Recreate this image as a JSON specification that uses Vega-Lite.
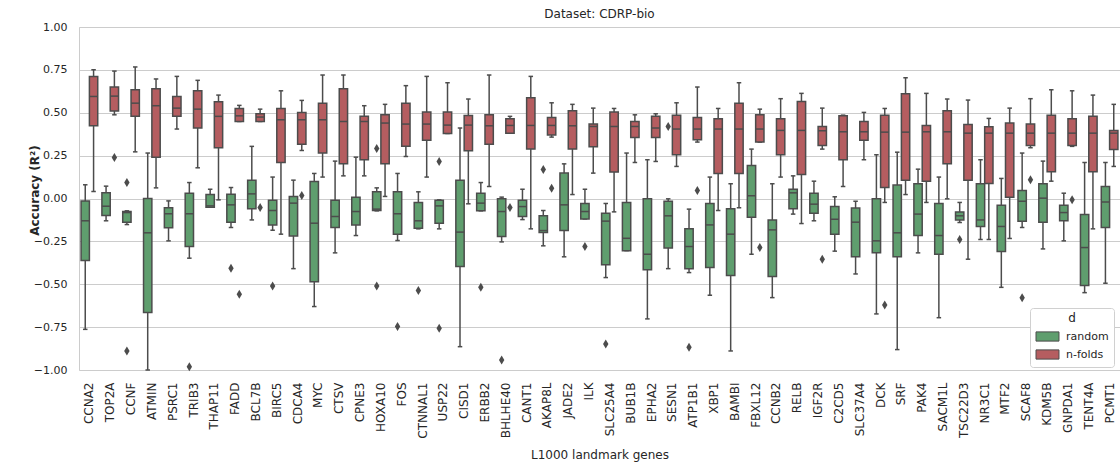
{
  "$schema": "https://vega.github.io/schema/vega-lite/v6.json",
  "width": 1041,
  "height": 343,
  "autosize": {"type": "none"},
  "padding": {"left": 79, "top": 27, "right": 0, "bottom": 98},
  "background": "white",
  "title": {"text": "Dataset: CDRP-bio", "fontSize": 12, "fontWeight": "normal", "color": "#262626", "offset": 0, "anchor": "middle", "font": "DejaVu Sans"},
  "config": {
    "font": "DejaVu Sans",
    "view": {"stroke": "#cccccc", "strokeWidth": 1},
    "axis": {"labelFont": "DejaVu Sans", "titleFont": "DejaVu Sans", "labelColor": "#262626", "titleColor": "#262626"},
    "legend": {"labelFont": "DejaVu Sans", "titleFont": "DejaVu Sans"}
  },
  "datasets": {
    "boxes": [
      {"gene": "CCNA2", "d": "random", "lo": -0.763, "q1": -0.362, "med": -0.130, "q3": -0.014, "hi": 0.080},
      {"gene": "CCNA2", "d": "n-folds", "lo": 0.041, "q1": 0.424, "med": 0.595, "q3": 0.712, "hi": 0.751},
      {"gene": "TOP2A", "d": "random", "lo": -0.130, "q1": -0.099, "med": -0.045, "q3": 0.033, "hi": 0.072},
      {"gene": "TOP2A", "d": "n-folds", "lo": 0.488, "q1": 0.510, "med": 0.597, "q3": 0.650, "hi": 0.743},
      {"gene": "CCNF", "d": "random", "lo": -0.152, "q1": -0.138, "med": -0.082, "q3": -0.076, "hi": -0.072},
      {"gene": "CCNF", "d": "n-folds", "lo": 0.272, "q1": 0.479, "med": 0.556, "q3": 0.634, "hi": 0.767},
      {"gene": "ATMIN", "d": "random", "lo": -1.0, "q1": -0.665, "med": -0.200, "q3": 0.000, "hi": 0.265},
      {"gene": "ATMIN", "d": "n-folds", "lo": 0.062, "q1": 0.241, "med": 0.541, "q3": 0.640, "hi": 0.697},
      {"gene": "PSRC1", "d": "random", "lo": -0.247, "q1": -0.171, "med": -0.089, "q3": -0.054, "hi": -0.014},
      {"gene": "PSRC1", "d": "n-folds", "lo": 0.405, "q1": 0.479, "med": 0.527, "q3": 0.595, "hi": 0.712},
      {"gene": "TRIB3", "d": "random", "lo": -0.348, "q1": -0.280, "med": -0.089, "q3": 0.031, "hi": 0.093},
      {"gene": "TRIB3", "d": "n-folds", "lo": 0.179, "q1": 0.411, "med": 0.521, "q3": 0.628, "hi": 0.689},
      {"gene": "THAP11", "d": "random", "lo": -0.051, "q1": -0.051, "med": -0.043, "q3": 0.023, "hi": 0.054},
      {"gene": "THAP11", "d": "n-folds", "lo": -0.008, "q1": 0.296, "med": 0.479, "q3": 0.564, "hi": 0.603},
      {"gene": "FADD", "d": "random", "lo": -0.169, "q1": -0.138, "med": -0.037, "q3": 0.025, "hi": 0.064},
      {"gene": "FADD", "d": "n-folds", "lo": 0.449, "q1": 0.449, "med": 0.482, "q3": 0.525, "hi": 0.543},
      {"gene": "BCL7B", "d": "random", "lo": -0.125, "q1": -0.060, "med": 0.027, "q3": 0.107, "hi": 0.304},
      {"gene": "BCL7B", "d": "n-folds", "lo": 0.449, "q1": 0.449, "med": 0.475, "q3": 0.494, "hi": 0.521},
      {"gene": "BIRC5", "d": "random", "lo": -0.185, "q1": -0.154, "med": -0.070, "q3": -0.010, "hi": 0.125},
      {"gene": "BIRC5", "d": "n-folds", "lo": -0.208, "q1": 0.210, "med": 0.459, "q3": 0.525, "hi": 0.628},
      {"gene": "CDCA4", "d": "random", "lo": -0.409, "q1": -0.218, "med": -0.027, "q3": 0.012, "hi": 0.107},
      {"gene": "CDCA4", "d": "n-folds", "lo": 0.280, "q1": 0.317, "med": 0.459, "q3": 0.502, "hi": 0.572},
      {"gene": "MYC", "d": "random", "lo": -0.630, "q1": -0.486, "med": -0.144, "q3": 0.099, "hi": 0.146},
      {"gene": "MYC", "d": "n-folds", "lo": 0.125, "q1": 0.265, "med": 0.459, "q3": 0.556, "hi": 0.720},
      {"gene": "CTSV", "d": "random", "lo": -0.317, "q1": -0.169, "med": -0.105, "q3": -0.010, "hi": 0.218},
      {"gene": "CTSV", "d": "n-folds", "lo": 0.132, "q1": 0.202, "med": 0.449, "q3": 0.640, "hi": 0.720},
      {"gene": "CPNE3", "d": "random", "lo": -0.216, "q1": -0.154, "med": -0.076, "q3": 0.008, "hi": 0.241},
      {"gene": "CPNE3", "d": "n-folds", "lo": 0.132, "q1": 0.226, "med": 0.449, "q3": 0.479, "hi": 0.541},
      {"gene": "HOXA10", "d": "random", "lo": -0.072, "q1": -0.070, "med": -0.062, "q3": 0.039, "hi": 0.062},
      {"gene": "HOXA10", "d": "n-folds", "lo": 0.012, "q1": 0.202, "med": 0.440, "q3": 0.488, "hi": 0.549},
      {"gene": "FOS", "d": "random", "lo": -0.245, "q1": -0.208, "med": -0.089, "q3": 0.039, "hi": 0.146},
      {"gene": "FOS", "d": "n-folds", "lo": 0.245, "q1": 0.304, "med": 0.434, "q3": 0.556, "hi": 0.658},
      {"gene": "CTNNAL1", "d": "random", "lo": -0.177, "q1": -0.173, "med": -0.130, "q3": -0.023, "hi": 0.039},
      {"gene": "CTNNAL1", "d": "n-folds", "lo": 0.125, "q1": 0.340, "med": 0.434, "q3": 0.504, "hi": 0.712},
      {"gene": "USP22", "d": "random", "lo": -0.177, "q1": -0.144, "med": -0.043, "q3": -0.010, "hi": -0.008},
      {"gene": "USP22", "d": "n-folds", "lo": 0.379, "q1": 0.379, "med": 0.428, "q3": 0.504, "hi": 0.675},
      {"gene": "CISD1", "d": "random", "lo": -0.864, "q1": -0.397, "med": -0.196, "q3": 0.107, "hi": 0.411},
      {"gene": "CISD1", "d": "n-folds", "lo": -0.031, "q1": 0.278, "med": 0.428, "q3": 0.484, "hi": 0.580},
      {"gene": "ERBB2", "d": "random", "lo": -0.072, "q1": -0.072, "med": -0.027, "q3": 0.031, "hi": 0.093},
      {"gene": "ERBB2", "d": "n-folds", "lo": 0.070, "q1": 0.317, "med": 0.424, "q3": 0.488, "hi": 0.720},
      {"gene": "BHLHE40", "d": "random", "lo": -0.253, "q1": -0.222, "med": -0.076, "q3": -0.002, "hi": 0.008},
      {"gene": "BHLHE40", "d": "n-folds", "lo": 0.381, "q1": 0.381, "med": 0.426, "q3": 0.465, "hi": 0.479},
      {"gene": "CANT1", "d": "random", "lo": -0.123, "q1": -0.105, "med": -0.047, "q3": -0.010, "hi": 0.054},
      {"gene": "CANT1", "d": "n-folds", "lo": -0.177, "q1": 0.288, "med": 0.426, "q3": 0.588, "hi": 0.712},
      {"gene": "AKAP8L", "d": "random", "lo": -0.276, "q1": -0.198, "med": -0.187, "q3": -0.101, "hi": -0.070},
      {"gene": "AKAP8L", "d": "n-folds", "lo": 0.358, "q1": 0.370, "med": 0.426, "q3": 0.473, "hi": 0.558},
      {"gene": "JADE2", "d": "random", "lo": -0.340, "q1": -0.187, "med": -0.037, "q3": 0.148, "hi": 0.202},
      {"gene": "JADE2", "d": "n-folds", "lo": 0.023, "q1": 0.288, "med": 0.424, "q3": 0.512, "hi": 0.549},
      {"gene": "ILK", "d": "random", "lo": -0.119, "q1": -0.119, "med": -0.076, "q3": -0.029, "hi": 0.054},
      {"gene": "ILK", "d": "n-folds", "lo": 0.148, "q1": 0.302, "med": 0.420, "q3": 0.434, "hi": 0.527},
      {"gene": "SLC25A4", "d": "random", "lo": -0.461, "q1": -0.387, "med": -0.132, "q3": -0.086, "hi": -0.029},
      {"gene": "SLC25A4", "d": "n-folds", "lo": -0.078, "q1": 0.154, "med": 0.420, "q3": 0.504, "hi": 0.525},
      {"gene": "BUB1B", "d": "random", "lo": -0.304, "q1": -0.304, "med": -0.232, "q3": -0.023, "hi": 0.265},
      {"gene": "BUB1B", "d": "n-folds", "lo": 0.210, "q1": 0.356, "med": 0.420, "q3": 0.449, "hi": 0.488},
      {"gene": "EPHA2", "d": "random", "lo": -0.702, "q1": -0.416, "med": -0.325, "q3": -0.002, "hi": 0.226},
      {"gene": "EPHA2", "d": "n-folds", "lo": 0.216, "q1": 0.356, "med": 0.411, "q3": 0.479, "hi": 0.494},
      {"gene": "SESN1", "d": "random", "lo": -0.409, "q1": -0.288, "med": -0.101, "q3": -0.016, "hi": -0.002},
      {"gene": "SESN1", "d": "n-folds", "lo": 0.187, "q1": 0.255, "med": 0.405, "q3": 0.486, "hi": 0.558},
      {"gene": "ATP1B1", "d": "random", "lo": -0.432, "q1": -0.409, "med": -0.280, "q3": -0.177, "hi": -0.062},
      {"gene": "ATP1B1", "d": "n-folds", "lo": 0.329, "q1": 0.342, "med": 0.405, "q3": 0.473, "hi": 0.650},
      {"gene": "XBP1", "d": "random", "lo": -0.564, "q1": -0.403, "med": -0.154, "q3": -0.029, "hi": 0.125},
      {"gene": "XBP1", "d": "n-folds", "lo": -0.070, "q1": 0.146, "med": 0.405, "q3": 0.465, "hi": 0.525},
      {"gene": "BAMBI", "d": "random", "lo": -0.889, "q1": -0.449, "med": -0.208, "q3": -0.060, "hi": 0.086},
      {"gene": "BAMBI", "d": "n-folds", "lo": -0.054, "q1": 0.146, "med": 0.405, "q3": 0.556, "hi": 0.675},
      {"gene": "FBXL12", "d": "random", "lo": -0.325, "q1": -0.109, "med": 0.016, "q3": 0.193, "hi": 0.288},
      {"gene": "FBXL12", "d": "n-folds", "lo": 0.329, "q1": 0.329, "med": 0.405, "q3": 0.488, "hi": 0.521},
      {"gene": "CCNB2", "d": "random", "lo": -0.578, "q1": -0.455, "med": -0.183, "q3": -0.125, "hi": 0.086},
      {"gene": "CCNB2", "d": "n-folds", "lo": 0.125, "q1": 0.255, "med": 0.397, "q3": 0.465, "hi": 0.582},
      {"gene": "RELB", "d": "random", "lo": -0.091, "q1": -0.060, "med": 0.033, "q3": 0.054, "hi": 0.132},
      {"gene": "RELB", "d": "n-folds", "lo": -0.146, "q1": 0.140, "med": 0.397, "q3": 0.566, "hi": 0.613},
      {"gene": "IGF2R", "d": "random", "lo": -0.130, "q1": -0.086, "med": -0.033, "q3": 0.031, "hi": 0.101},
      {"gene": "IGF2R", "d": "n-folds", "lo": 0.288, "q1": 0.309, "med": 0.395, "q3": 0.420, "hi": 0.527},
      {"gene": "C2CD5", "d": "random", "lo": -0.307, "q1": -0.208, "med": -0.121, "q3": -0.047, "hi": 0.010},
      {"gene": "C2CD5", "d": "n-folds", "lo": 0.070, "q1": 0.226, "med": 0.389, "q3": 0.482, "hi": 0.486},
      {"gene": "SLC37A4", "d": "random", "lo": -0.440, "q1": -0.339, "med": -0.138, "q3": -0.056, "hi": -0.016},
      {"gene": "SLC37A4", "d": "n-folds", "lo": 0.226, "q1": 0.340, "med": 0.389, "q3": 0.449, "hi": 0.502},
      {"gene": "DCK", "d": "random", "lo": -0.673, "q1": -0.317, "med": -0.247, "q3": -0.002, "hi": 0.255},
      {"gene": "DCK", "d": "n-folds", "lo": -0.023, "q1": 0.064, "med": 0.387, "q3": 0.486, "hi": 0.525},
      {"gene": "SRF", "d": "random", "lo": -0.881, "q1": -0.340, "med": -0.200, "q3": 0.078, "hi": 0.270},
      {"gene": "SRF", "d": "n-folds", "lo": 0.023, "q1": 0.107, "med": 0.387, "q3": 0.611, "hi": 0.704},
      {"gene": "PAK4", "d": "random", "lo": -0.317, "q1": -0.216, "med": -0.091, "q3": 0.086, "hi": 0.171},
      {"gene": "PAK4", "d": "n-folds", "lo": -0.023, "q1": 0.101, "med": 0.389, "q3": 0.426, "hi": 0.613},
      {"gene": "SACM1L", "d": "random", "lo": -0.695, "q1": -0.325, "med": -0.216, "q3": -0.029, "hi": 0.125},
      {"gene": "SACM1L", "d": "n-folds", "lo": -0.002, "q1": 0.202, "med": 0.389, "q3": 0.512, "hi": 0.580},
      {"gene": "TSC22D3", "d": "random", "lo": -0.140, "q1": -0.125, "med": -0.101, "q3": -0.078, "hi": -0.023},
      {"gene": "TSC22D3", "d": "n-folds", "lo": -0.354, "q1": 0.107, "med": 0.381, "q3": 0.432, "hi": 0.574},
      {"gene": "NR3C1", "d": "random", "lo": -0.239, "q1": -0.163, "med": -0.125, "q3": 0.086, "hi": 0.226},
      {"gene": "NR3C1", "d": "n-folds", "lo": -0.239, "q1": 0.088, "med": 0.381, "q3": 0.418, "hi": 0.467},
      {"gene": "MTF2", "d": "random", "lo": -0.518, "q1": -0.309, "med": -0.163, "q3": -0.039, "hi": 0.117},
      {"gene": "MTF2", "d": "n-folds", "lo": -0.233, "q1": 0.008, "med": 0.381, "q3": 0.440, "hi": 0.527},
      {"gene": "SCAF8", "d": "random", "lo": -0.169, "q1": -0.132, "med": -0.016, "q3": 0.047, "hi": 0.265},
      {"gene": "SCAF8", "d": "n-folds", "lo": 0.296, "q1": 0.309, "med": 0.381, "q3": 0.434, "hi": 0.582},
      {"gene": "KDM5B", "d": "random", "lo": -0.294, "q1": -0.138, "med": 0.002, "q3": 0.086, "hi": 0.218},
      {"gene": "KDM5B", "d": "n-folds", "lo": 0.101, "q1": 0.156, "med": 0.381, "q3": 0.486, "hi": 0.634},
      {"gene": "GNPDA1", "d": "random", "lo": -0.247, "q1": -0.130, "med": -0.082, "q3": -0.039, "hi": 0.031},
      {"gene": "GNPDA1", "d": "n-folds", "lo": 0.304, "q1": 0.309, "med": 0.381, "q3": 0.465, "hi": 0.628},
      {"gene": "TENT4A", "d": "random", "lo": -0.549, "q1": -0.508, "med": -0.286, "q3": -0.093, "hi": 0.210},
      {"gene": "TENT4A", "d": "n-folds", "lo": -0.177, "q1": 0.156, "med": 0.381, "q3": 0.479, "hi": 0.603},
      {"gene": "PCMT1", "d": "random", "lo": -0.494, "q1": -0.169, "med": -0.021, "q3": 0.070, "hi": 0.210},
      {"gene": "PCMT1", "d": "n-folds", "lo": 0.187, "q1": 0.286, "med": 0.381, "q3": 0.397, "hi": 0.549}
    ],
    "fliers": [
      {"gene": "TOP2A", "d": "n-folds", "v": 0.239},
      {"gene": "CCNF", "d": "random", "v": 0.093},
      {"gene": "CCNF", "d": "random", "v": -0.889},
      {"gene": "TRIB3", "d": "random", "v": -0.981},
      {"gene": "FADD", "d": "random", "v": -0.407},
      {"gene": "FADD", "d": "n-folds", "v": -0.558},
      {"gene": "BCL7B", "d": "n-folds", "v": -0.053},
      {"gene": "BIRC5", "d": "random", "v": -0.510},
      {"gene": "CDCA4", "d": "n-folds", "v": 0.018},
      {"gene": "HOXA10", "d": "random", "v": 0.292},
      {"gene": "HOXA10", "d": "random", "v": -0.510},
      {"gene": "FOS", "d": "random", "v": -0.747},
      {"gene": "CTNNAL1", "d": "random", "v": -0.537},
      {"gene": "USP22", "d": "random", "v": 0.216},
      {"gene": "USP22", "d": "random", "v": -0.757},
      {"gene": "ERBB2", "d": "random", "v": -0.518},
      {"gene": "BHLHE40", "d": "random", "v": -0.942},
      {"gene": "BHLHE40", "d": "n-folds", "v": -0.053},
      {"gene": "AKAP8L", "d": "random", "v": 0.169},
      {"gene": "AKAP8L", "d": "n-folds", "v": 0.060},
      {"gene": "ILK", "d": "random", "v": -0.280},
      {"gene": "SLC25A4", "d": "random", "v": -0.848},
      {"gene": "SESN1", "d": "random", "v": 0.420},
      {"gene": "ATP1B1", "d": "n-folds", "v": 0.047},
      {"gene": "ATP1B1", "d": "random", "v": -0.868},
      {"gene": "FBXL12", "d": "n-folds", "v": -0.286},
      {"gene": "IGF2R", "d": "n-folds", "v": -0.354},
      {"gene": "DCK", "d": "n-folds", "v": -0.621},
      {"gene": "TSC22D3", "d": "random", "v": -0.239},
      {"gene": "SCAF8", "d": "n-folds", "v": 0.109},
      {"gene": "SCAF8", "d": "random", "v": -0.578},
      {"gene": "GNPDA1", "d": "n-folds", "v": -0.008}
    ]
  },
  "encoding": {
    "x": {
      "field": "gene", "type": "nominal",
      "scale": {
        "domain": ["CCNA2","TOP2A","CCNF","ATMIN","PSRC1","TRIB3","THAP11","FADD","BCL7B","BIRC5","CDCA4","MYC","CTSV","CPNE3","HOXA10","FOS","CTNNAL1","USP22","CISD1","ERBB2","BHLHE40","CANT1","AKAP8L","JADE2","ILK","SLC25A4","BUB1B","EPHA2","SESN1","ATP1B1","XBP1","BAMBI","FBXL12","CCNB2","RELB","IGF2R","C2CD5","SLC37A4","DCK","SRF","PAK4","SACM1L","TSC22D3","NR3C1","MTF2","SCAF8","KDM5B","GNPDA1","TENT4A","PCMT1"],
        "paddingInner": 0.2, "paddingOuter": 0.1
      },
      "axis": {
        "title": "L1000 landmark genes", "titleFontSize": 12, "titleFontWeight": "normal",
        "titleY": 88, "titleBaseline": "alphabetic",
        "labelAngle": -90, "labelFontSize": 12, "labelPadding": 12, "labelOverlap": false,
        "ticks": false, "domain": false, "grid": false
      }
    },
    "xOffset": {"field": "d", "type": "nominal", "scale": {"domain": ["random", "n-folds"], "paddingInner": 0, "paddingOuter": 0}}
  },
  "layer": [
    {
      "data": {"name": "boxes"},
      "mark": {"type": "rule", "color": "#4c4c4c", "strokeWidth": 1.5},
      "encoding": {
        "y": {
          "field": "lo", "type": "quantitative",
          "scale": {"domain": [-1, 1], "nice": false, "zero": false},
          "axis": {
            "title": "Accuracy (R²)", "titleFontSize": 12, "titleFontWeight": "bold",
            "titleX": -38, "titleY": 163, "titleBaseline": "bottom", "titleAlign": "center", "titleAngle": -90,
            "values": [-1, -0.75, -0.5, -0.25, 0, 0.25, 0.5, 0.75, 1], "format": ".2f",
            "labelFontSize": 11, "labelPadding": 12, "ticks": false, "domain": false,
            "grid": true, "gridColor": "#cccccc", "gridWidth": 1
          }
        },
        "y2": {"field": "hi"}
      }
    },
    {
      "data": {"name": "boxes"},
      "mark": {"type": "tick", "color": "#4c4c4c", "size": 4.5, "thickness": 1.5, "opacity": 1},
      "encoding": {"y": {"field": "lo", "type": "quantitative"}}
    },
    {
      "data": {"name": "boxes"},
      "mark": {"type": "tick", "color": "#4c4c4c", "size": 4.5, "thickness": 1.5, "opacity": 1},
      "encoding": {"y": {"field": "hi", "type": "quantitative"}}
    },
    {
      "data": {"name": "boxes"},
      "mark": {"type": "bar", "stroke": "#4c4c4c", "strokeWidth": 1.5, "opacity": 1},
      "encoding": {
        "y": {"field": "q1", "type": "quantitative"},
        "y2": {"field": "q3"},
        "fill": {
          "field": "d", "type": "nominal",
          "scale": {"domain": ["random", "n-folds"], "range": ["#5f9e6e", "#b55d60"]},
          "legend": {
            "title": "d", "orient": "none", "legendX": 951, "legendY": 281,
            "fillColor": "white", "strokeColor": "#d0d0d0", "cornerRadius": 3, "padding": 5,
            "titleAnchor": "middle", "titleFontWeight": "normal", "titleFontSize": 12, "titleColor": "#262626", "titlePadding": 3,
            "labelFontSize": 11, "labelColor": "#262626", "labelOffset": 10, "symbolOffset": 4,
            "symbolType": "M-1.5,-0.6H1.5V0.6H-1.5Z", "symbolSize": 235,
            "symbolStrokeColor": "#4c4c4c", "symbolStrokeWidth": 1, "symbolOpacity": 1,
            "rowPadding": 2
          }
        }
      }
    },
    {
      "data": {"name": "boxes"},
      "mark": {"type": "tick", "color": "#4c4c4c", "size": 8.3, "thickness": 1.5, "opacity": 1},
      "encoding": {"y": {"field": "med", "type": "quantitative"}}
    },
    {
      "data": {"name": "fliers"},
      "mark": {"type": "point", "shape": "M0,-1L0.6,0L0,1L-0.6,0Z", "filled": true, "color": "#4c4c4c", "size": 81, "opacity": 1},
      "encoding": {"y": {"field": "v", "type": "quantitative"}}
    }
  ]
}
